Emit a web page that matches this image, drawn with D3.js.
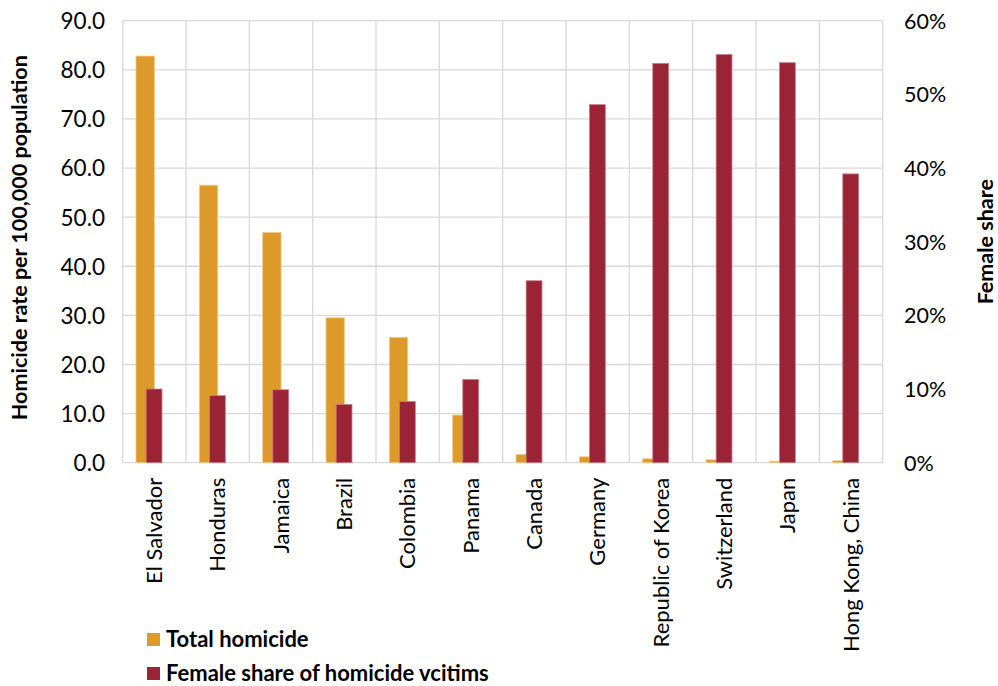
<!DOCTYPE html>
<html>
<head>
<meta charset="utf-8">
<script src="https://cdn.jsdelivr.net/npm/d3@7"></script>
<style>
  html, body { margin: 0; padding: 0; background: #fff; }
  svg { display: block; font-family: Lato, "Open Sans", sans-serif; }
</style>
</head>
<body>
<svg id="chart" width="998" height="686"></svg>
<script>
const categories = ["El Salvador", "Honduras", "Jamaica", "Brazil", "Colombia", "Panama", "Canada", "Germany", "Republic of Korea", "Switzerland", "Japan", "Hong Kong, China"];
const totalHomicide = [82.8, 56.5, 46.9, 29.5, 25.5, 9.7, 1.7, 1.2, 0.8, 0.6, 0.3, 0.4];
const femaleShare = [0.100, 0.091, 0.099, 0.079, 0.083, 0.113, 0.247, 0.486, 0.542, 0.554, 0.543, 0.392];
const leftTicks = [0, 10, 20, 30, 40, 50, 60, 70, 80, 90];
const rightTicks = [0, 0.1, 0.2, 0.3, 0.4, 0.5, 0.6];
const seriesNames = ["Total homicide", "Female share of homicide vcitims"];
const colors = ["#DD9A2B", "#9A2335"];

const svg = d3.select("#chart");
const m = { left: 122.7, right: 882.7, top: 20.7, bottom: 462.7 };

const x = d3.scaleBand().domain(categories).range([m.left, m.right]).paddingInner(0).paddingOuter(0);
const yL = d3.scaleLinear().domain([0, 90]).range([m.bottom, m.top]);
const yR = d3.scaleLinear().domain([0, 0.6]).range([m.bottom, m.top]);
const grid = "#d9d9d9";

// horizontal gridlines
svg.append("g").selectAll("line").data(leftTicks).join("line")
  .attr("x1", m.left).attr("x2", m.right)
  .attr("y1", d => yL(d)).attr("y2", d => yL(d))
  .attr("stroke", grid).attr("stroke-width", 1.3);
// vertical gridlines at category boundaries
const bounds = categories.map(c => x(c)).concat([m.right]);
svg.append("g").selectAll("line").data(bounds).join("line")
  .attr("x1", d => d).attr("x2", d => d)
  .attr("y1", m.top).attr("y2", m.bottom)
  .attr("stroke", grid).attr("stroke-width", 1.3);

const bw = x.bandwidth();
// Total homicide bars
svg.append("g").selectAll("rect").data(categories).join("rect")
  .attr("x", (c) => x(c) + bw * 0.21)
  .attr("width", bw * 0.29)
  .attr("y", (c, i) => yL(totalHomicide[i]))
  .attr("height", (c, i) => yL(0) - yL(totalHomicide[i]))
  .attr("fill", colors[0])
  .attr("stroke", "#f0c98a").attr("stroke-width", 0.8);
// Female share bars
svg.append("g").selectAll("rect").data(categories).join("rect")
  .attr("x", (c) => x(c) + bw * 0.37)
  .attr("width", bw * 0.25)
  .attr("y", (c, i) => yR(femaleShare[i]))
  .attr("height", (c, i) => yR(0) - yR(femaleShare[i]))
  .attr("fill", colors[1])
  .attr("stroke", "#c77a86").attr("stroke-width", 0.8);

// Left axis
const axL = d3.axisLeft(yL).tickValues(leftTicks).tickFormat(d3.format(".1f")).tickSize(0).tickPadding(0);
const gL = svg.append("g").attr("transform", `translate(105,0)`).call(axL);
gL.select(".domain").remove();
gL.selectAll("text").attr("font-size", 22.5).attr("fill", "#000").attr("font-family", "Lato").attr("dy", "0.35em");

// Right axis
const axR = d3.axisRight(yR).tickValues(rightTicks).tickFormat(d3.format(".0%")).tickSize(0).tickPadding(0);
const gR = svg.append("g").attr("transform", `translate(904,0)`).call(axR);
gR.select(".domain").remove();
gR.selectAll("text").attr("font-size", 21.5).attr("fill", "#000").attr("font-family", "Lato").attr("dy", "0.35em");

// Bottom axis labels (rotated)
const axB = d3.axisBottom(x).tickSize(0).tickPadding(0);
const gB = svg.append("g").attr("transform", `translate(0,${m.bottom})`).call(axB);
gB.select(".domain").remove();
gB.selectAll("text")
  .attr("font-size", 22).attr("fill", "#000").attr("font-family", "Lato")
  .attr("text-anchor", "end")
  .attr("transform", "rotate(-90)")
  .attr("x", -15).attr("y", 0).attr("dy", "0.35em");

// Axis titles
svg.append("text").attr("transform", `translate(27,${(m.top + m.bottom) / 2 - 4}) rotate(-90)`)
  .attr("text-anchor", "middle").attr("font-weight", "bold").attr("font-size", 21.5)
  .text("Homicide rate per 100,000 population");
svg.append("text").attr("transform", `translate(978,${(m.top + m.bottom) / 2}) rotate(-90)`)
  .attr("text-anchor", "middle").attr("font-weight", "bold").attr("font-size", 21.5)
  .attr("dy", "0.72em")
  .text("Female share");

// Legend
const lg = svg.append("g").selectAll("g").data(seriesNames).join("g")
  .attr("transform", (d, i) => `translate(147,${639 + i * 34})`);
lg.append("rect").attr("x", 0).attr("y", -6).attr("width", 13).attr("height", 13)
  .attr("fill", (d, i) => colors[i]);
lg.append("text").attr("x", 19).attr("y", 0).attr("dy", "0.36em")
  .attr("font-weight", "bold").attr("font-size", 22).text(d => d);
</script>
</body>
</html>
